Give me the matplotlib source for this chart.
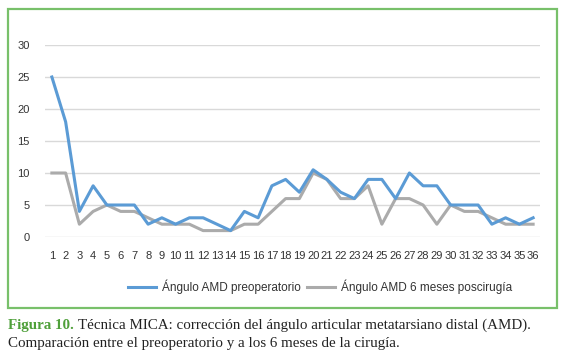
import matplotlib.pyplot as plt
import matplotlib.patches as patches

casos = list(range(1, 37))
preop = [25, 18, 4, 8, 5, 5, 5, 2, 3, 2, 3, 3, 2, 1, 4, 3, 8, 9, 7, 10.5,
         9, 7, 6, 9, 9, 6, 10, 8, 8, 5, 5, 5, 2, 3, 2, 3]
postop = [10, 10, 2, 4, 5, 4, 4, 3, 2, 2, 2, 1, 1, 1, 2, 2, 4, 6, 6, 10,
          9, 6, 6, 8, 2, 6, 6, 5, 2, 5, 4, 4, 3, 2, 2, 2]
yticks = [0, 5, 10, 15, 20, 25, 30]

plt.rcParams['font.family'] = ['Liberation Sans', 'DejaVu Sans']

fig = plt.figure(figsize=(5.67, 3.6), dpi=100)
ax = fig.add_axes([45 / 567, 1 - 237 / 360, 495 / 567, 192 / 360])

ax.plot(casos, preop, color="#5b9bd5", lw=2.2, label="Ángulo AMD preoperatorio", zorder=3)
ax.plot(casos, postop, color="#ababab", lw=2.2, label="Ángulo AMD 6 meses poscirugía", zorder=2)

ax.set_xlim(0.5, 36.5)
ax.set_ylim(0, 30)
ax.set_yticks(yticks)
ax.set_xticks(casos)
ax.grid(axis="y", color="#d9d9d9", lw=1)
ax.set_axisbelow(True)
for s in ax.spines.values():
    s.set_visible(False)
ax.tick_params(length=0, labelsize=8, colors="#333333")
ax.tick_params(axis="y", pad=11)
ax.tick_params(axis="x", pad=10)

ax.legend(loc="center", bbox_to_anchor=(320 / 567, 1 - 287 / 360),
          bbox_transform=fig.transFigure, ncol=2, frameon=False,
          fontsize=8.5, handlelength=2.4, columnspacing=0.5, handletextpad=0.5,
          labelcolor="#333333")

# marco verde
fig.patches.append(patches.Rectangle((8 / 567, 1 - 308 / 360), 549 / 567, 299 / 360,
                                     transform=fig.transFigure, fill=False,
                                     edgecolor="#78c06a", lw=1.6))

# pie de figura
serif = ['Liberation Serif', 'DejaVu Serif']
t1 = fig.text(8 / 567, 1 - 325 / 360, "Figura 10.", family=serif, fontsize=10.8,
              weight="bold", color="#4fa03a", va="center")
fig.canvas.draw()
bb = t1.get_window_extent()
x2 = bb.x1 / fig.bbox.width + 4 / 567
fig.text(x2, 1 - 325 / 360,
         "Técnica MICA: corrección del ángulo articular metatarsiano distal (AMD).",
         family=serif, fontsize=10.8, color="#222222", va="center")
fig.text(8 / 567, 1 - 343 / 360,
         "Comparación entre el preoperatorio y a los 6 meses de la cirugía.",
         family=serif, fontsize=10.8, color="#222222", va="center")

fig.savefig("out.png", dpi=100)
